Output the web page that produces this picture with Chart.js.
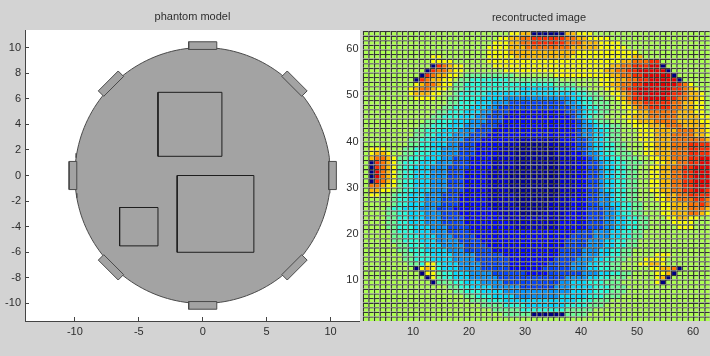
<!DOCTYPE html>
<html><head><meta charset="utf-8">
<script src="https://cdn.jsdelivr.net/npm/chart.js@4/dist/chart.umd.min.js"></script>
<style>
html,body{margin:0;padding:0;background:#d3d3d3;width:710px;height:356px;overflow:hidden;}
#wrap{position:relative;width:710px;height:356px;overflow:hidden;}
#c1{position:absolute;left:0;top:0;width:360px;height:356px;}
#c2{position:absolute;left:320px;top:0;width:400px;height:356px;}
</style></head><body>
<div id="wrap"><canvas id="c1" width="360" height="356"></canvas><canvas id="c2" width="400" height="356"></canvas></div>
<script>
// ---------- phantom model (left panel) ----------
const PHANTOM_TITLE = 'phantom model';
const PHANTOM_X_TICKS = [-10, -5, 0, 5, 10];
const PHANTOM_Y_TICKS = [-10, -8, -6, -4, -2, 0, 2, 4, 6, 8, 10];
const TANK_RADIUS = 10;
const ELECTRODE_ANGLES = [90, 45, 0, -45, -90, -135, 180, 135];
const ELECTRODE_WIDTH = 2.2;
const ELECTRODE_OUTER = 10.45;
const INCLUSION_X0 = [-3.5, -2, -6.5];
const INCLUSION_X1 = [1.5, 4, -3.5];
const INCLUSION_Y0 = [1.5, -6, -5.5];
const INCLUSION_Y1 = [6.5, 0, -2.5];

// ---------- reconstructed image (right panel, faceted 63 x 63 cells on 1..64) ----------
const IMAGE_TITLE = 'recontructed image';
const IMAGE_X_TICKS = [10, 20, 30, 40, 50, 60];
const IMAGE_Y_TICKS = [10, 20, 30, 40, 50, 60];
const IMAGE_LEVELS = 'azbcdefghijklmn';
const LEVEL_VALUES = [0.0, 0.025, 0.075, 0.13, 0.19, 0.27, 0.34, 0.41, 0.48, 0.545, 0.62, 0.69, 0.76, 0.83, 0.9];
// 63 cell rows, top to bottom; each row = runs of level letter + cell count
const IMAGE_ROWS = [
'i26j2k2a6k2j3i23',
'i24j2k2l2m6l2k2j4i20',
'i23j3k2l2m6l3k3j4i18',
'i22j4k3l8k5j5i17',
'i22j4k12j11i15',
'i12j2i8j5k10j11k2i14',
'i12j4i6j24k2l3m2i11',
'i12a1m1l1k1j2i5j21k2l2m3n2a1i10',
'i11a1m1l2k1j2i7j18k2l2m2n5a1i9',
'i10a1m1l1k2j2i1h9i7j10k2l2m2n5a1i8',
'i9a1m1l1k2j2i1h2g7h9i7j3k2l2m2n5a1i7',
'i9j1k1l2k1j2h2g16h4i4j2k2l2m2n6m1l1j1i5',
'i8j1k1l2k1j2i1h2g10f6g4h2i3j2k1l1m2n6m2l1k1j1i4',
'i8j1k3j2i2h1g5f16g2h2i2j2k1l1m1n6m2l1k2j1i3',
'i9j4i2h2g4f4e12f2g2h2i2j1k1l1m2n4m2l2k2j1i3',
'i15h2g3f3e3d10e2f1g2h3i2j1k1l2m5l2k2j2i3',
'i14h2g3f3e2d13e2f1g2h2i2j2k1l2m4l2k2j2i3',
'i13h2g3f3e2d3c10d2e1f1g2h2i3j2k2l5k3j2i3',
'i12h2g3f3e2d3c12d1e1f1g1h2i3j2k3l5k4j2i2',
'i11h2g3f3e3d3c13d1e1f1g1h2i3j2k3l4k4j2i2',
'i10h2g3f3e3d3c14d1e2f1g2h2i2j3k3l3k4j2i1',
'i9h2g3f3e3d3c15d1e2f2g1h2i3j3k4l3k2j1i2',
'i9h2g2f3e3d3c16d1e2f2g1h2i3j3k3l4k2j1i2',
'i8h2g2f3e3d3c6b8c3d2e1f2g1h2i3j3k3l6k1j1i1',
'i8h2g2f3e2d3c5b3z5b3c2d2e1f2g2h2i3j2k3l3m4l1i1',
'i1j3i3h2g3f2e3d3c4b3z7b3c1d2e1f2g2h2i3j2k3l3m4l1i1',
'i1j1k2j1i2h2g3f2e3d3c4b3z7b3c2d1e2f1g2h3i2j2k3l3m4l1i1',
'i1k1l2k1j1h2g3f3e2d3c4b4z8b3c2d1e1f2g2h3i2j2k2l3m2n2m1i1',
'i1a1m1l1k1j1h1g3f3e3d3c4b4z8b3c2d2e1f2g2h3i2j2k2l2m2n2a1i1',
'i1a1m1l1k1j1h1g2f3e3d4c4b4z8b3c2d2e1f2g2h2i2j2k2l2m2n3a1i1',
'i1a1n1l1k1j1h1g2f3e3d3c4b4z9b3c2d2e1f2g2h2i2j2k2l2m2n3a1i1',
'i1a1n1l1k1j1h1g2f3e3d3c4b4z9b3c2d2e1f2g2h2i2j2k2l2m2n3a1i1',
'i1a1m1l1k1j1h1g2f3e3d3c4b4z9b3c2d2e1f2g2h2i2j2k2l2m2n3a1i1',
'i1l2k1j2h1g2f3e3d3c4b4z9b3c2d2e1f2g2h2i2j2k2l2m2n3m1i1',
'i1k2j2i1h1g2f3e3d3c4b4z9b3c2d2e1f2g2h2i2j2k2l2m2n2m1l1i1',
'i1j2i2h1g2f3e3d3c5b5z8b3c2d2e2f1g2h2i3j2k2l2m4l1i1',
'i5h1g2f3e3d3c5b5z7b3c3d2e2f1g2h2i3j2k2l3m2l1k1i1',
'i5h1g2f3e3d3c5b5z6b4c3d2e2f2g2h2i3j2k3l2m1l1k1i1',
'i4h1g2f3e3d3c7b5z5b4c3d3e2f1g2h2i3j2k3l3k1j1i1',
'i4h2g2f3e3d3c7b4z4b4c4d3e2f1g2h2i3j2k3l2k1j1i2',
'i4h2g2f3e3d4c7b11c4d3e2f2g2h2i3j2k2j2i4',
'i4h2g2f3e3d4c8b9c5d3e2f2g2h2i4j4i5',
'i4h2g3f3e3d4c8b8c5d3e2f2g2h2i5j3i5',
'i5h1g3f3e3d4c19d3e3f2g2h2i14',
'i5h2g3f3e3d4c17d4e3f2g2h2i14',
'i5h2g3f3e4d4c15d4e3f2g2h2i15',
'i6h2g3f3e4d4c14d4e3f2g2h2i15',
'i6h2g3f4e3d5c12d4e3f2g2h2i16',
'i7h2g3f4e4d5c10d4e3f2g2h2i4j3i9',
'i7h2g3f4e4d6c8d4e3f2g2h2i3j4i10',
'i8h2g1j2g1f3e4d5c7d4e3f2g2h2i3j2k2j1i10',
'i9a1j1k1j1g1f3e4d5c6d5e3f2g2h2i5j2k2l1a1i7',
'i10a1j2h1g2f3e4d6c4d6e3f2g2h2i4j2k1a1i8',
'i11a1j1h1g2f3e5d12e4f2g2h3i5j1k1a1i9',
'i12a1h3g2f3e4d10e2f3g3h3i6j1a1i10',
'i15h2g2f4e5d6e3f4g3h3i17',
'i16h2g3f4e12f4g3h3i17',
'i18h2g3f4e8f5g3h3i18',
'i19h3g3f13g3h3i20',
'i21h4g4f7g4h3i21',
'i23h5g8h5i23',
'i25h5a6h4i24',
'i64'
];
const N_CELLS = 63;

const FONT = {family: "'Liberation Sans', Arial, sans-serif", size: 11, weight: 'normal'};
const TEXT = '#2e2e2e';

function decodeRow(s) {
  const out = [];
  s.replace(/([a-z])(\d+)/g, (m, ch, n) => { for (let k = 0; k < +n; k++) out.push(ch); return m; });
  while (out.length < N_CELLS) out.push('i');
  return out.slice(0, N_CELLS);
}
function jet(v) {
  const c = x => Math.max(0, Math.min(1, x));
  const r = c(1.5 - Math.abs(4 * v - 3)), g = c(1.5 - Math.abs(4 * v - 2)), b = c(1.5 - Math.abs(4 * v - 1));
  return 'rgb(' + Math.round(r * 255) + ',' + Math.round(g * 255) + ',' + Math.round(b * 255) + ')';
}

// ----- build phantom shapes -----
const circlePts = [];
for (let k = 0; k <= 180; k++) {
  const t = k / 180 * 2 * Math.PI;
  circlePts.push({x: TANK_RADIUS * Math.cos(t), y: TANK_RADIUS * Math.sin(t)});
}
const shapeSets = [];
INCLUSION_X0.forEach((x0, i) => {
  const x1 = INCLUSION_X1[i], y0 = INCLUSION_Y0[i], y1 = INCLUSION_Y1[i];
  shapeSets.push({data: [{x: x0, y: y0}, {x: x1, y: y0}, {x: x1, y: y1}, {x: x0, y: y1}, {x: x0, y: y0}],
    showLine: true, fill: false, borderColor: '#1e1e1e', borderWidth: 1, pointRadius: 0, tension: 0});
});
ELECTRODE_ANGLES.forEach(a => {
  const th = a * Math.PI / 180, ux = Math.cos(th), uy = Math.sin(th), tx = -uy, ty = ux;
  const h = ELECTRODE_WIDTH / 2, r0 = TANK_RADIUS - 0.15, r1 = ELECTRODE_OUTER;
  const p = (r, s) => ({x: r * ux + s * h * tx, y: r * uy + s * h * ty});
  shapeSets.push({data: [p(r0, -1), p(r1, -1), p(r1, 1), p(r0, 1), p(r0, -1)],
    showLine: true, fill: 'shape', backgroundColor: '#a3a3a3', borderColor: '#4a4a4a', borderWidth: 1, pointRadius: 0, tension: 0});
});
shapeSets.push({data: circlePts, showLine: true, fill: 'shape', backgroundColor: '#a3a3a3', borderColor: '#4a4a4a', borderWidth: 1, pointRadius: 0, tension: 0});

const whiteArea = {id: 'whiteArea', beforeDraw(chart) {
  const {ctx, chartArea: a} = chart;
  ctx.save(); ctx.fillStyle = '#ffffff'; ctx.fillRect(a.left, a.top, a.right - a.left, a.bottom - a.top); ctx.restore();
}};

new Chart(document.getElementById('c1'), {
  type: 'scatter',
  data: {datasets: shapeSets},
  options: {
    responsive: false, animation: false, events: [],
    layout: {padding: 0},
    plugins: {
      legend: {display: false}, tooltip: {enabled: false},
      title: {display: true, text: PHANTOM_TITLE, fullSize: false, color: TEXT, font: FONT, padding: {top: 10, bottom: 6.8}}
    },
    scales: {
      x: {type: 'linear', min: -13.9, max: 12.3,
        grid: {display: true, drawOnChartArea: false, drawTicks: true, tickLength: -4, color: '#444'},
        border: {display: true, color: '#444', width: 1},
        ticks: {color: TEXT, font: FONT, padding: 8, maxRotation: 0, autoSkip: false},
        afterBuildTicks: s => { s.ticks = PHANTOM_X_TICKS.map(v => ({value: v})); },
        afterFit: s => { s.height = 35; }},
      y: {type: 'linear', min: -11.37, max: 11.37,
        grid: {display: true, drawOnChartArea: false, drawTicks: true, tickLength: -4, color: '#444'},
        border: {display: true, color: '#444', width: 1},
        ticks: {color: TEXT, font: FONT, padding: 8, autoSkip: false},
        afterBuildTicks: s => { s.ticks = PHANTOM_Y_TICKS.map(v => ({value: v})); },
        afterFit: s => { s.width = 25; }}
    }
  },
  plugins: [whiteArea]
});

// ----- build heatmap cells (cell [c, c+1] x [r, r+1]) -----
const cells = [], cellColors = [];
IMAGE_ROWS.forEach((rowStr, k) => {
  const r = N_CELLS - k;
  if (r < 1) return;
  decodeRow(rowStr).forEach((ch, ci) => {
    cells.push({x: ci + 1.5, y: [r, r + 1]});
    cellColors.push(jet(LEVEL_VALUES[IMAGE_LEVELS.indexOf(ch)]));
  });
});

new Chart(document.getElementById('c2'), {
  type: 'bar',
  data: {datasets: [{data: cells, backgroundColor: cellColors, borderColor: 'rgba(8,12,4,0.78)',
    borderWidth: {left: 1.5, top: 1.3, right: 0, bottom: 0}, borderSkipped: false, inflateAmount: 0,
    categoryPercentage: 1, barPercentage: 1}]},
  options: {
    responsive: false, animation: false, events: [],
    layout: {padding: {left: 0, right: 4.6, top: 0, bottom: 0}},
    plugins: {
      legend: {display: false}, tooltip: {enabled: false},
      title: {display: true, text: IMAGE_TITLE, fullSize: false, color: TEXT, font: FONT, padding: {top: 11, bottom: 6.8}}
    },
    scales: {
      x: {type: 'linear', min: 1, max: 64, offset: false,
        grid: {display: false, offset: false, drawTicks: false}, border: {display: false},
        ticks: {color: TEXT, font: FONT, padding: 4, maxRotation: 0, autoSkip: false},
        afterBuildTicks: s => { s.ticks = IMAGE_X_TICKS.map(v => ({value: v})); },
        afterFit: s => { s.height = 35; }},
      y: {type: 'linear', min: 1, max: 64,
        grid: {display: false, drawTicks: false}, border: {display: false},
        ticks: {color: TEXT, font: FONT, padding: 4, autoSkip: false},
        afterBuildTicks: s => { s.ticks = IMAGE_Y_TICKS.map(v => ({value: v})); },
        afterFit: s => { s.width = 42.6; }}
    }
  }
});
</script>
</body></html>
